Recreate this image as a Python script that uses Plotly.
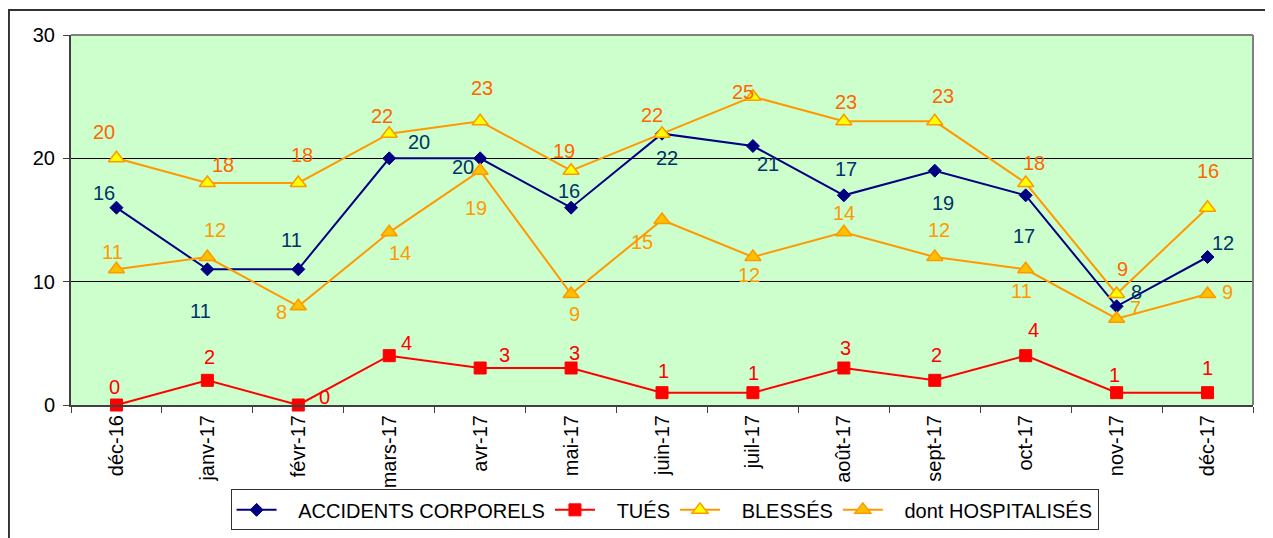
import plotly.graph_objects as go

months = ["déc-16", "janv-17", "févr-17", "mars-17", "avr-17", "mai-17", "juin-17",
          "juil-17", "août-17", "sept-17", "oct-17", "nov-17", "déc-17"]
accidents = [16, 11, 11, 20, 20, 16, 22, 21, 17, 19, 17, 8, 12]
tues = [0, 2, 0, 4, 3, 3, 1, 1, 3, 2, 4, 1, 1]
blesses = [20, 18, 18, 22, 23, 19, 22, 25, 23, 23, 18, 9, 16]
hospitalises = [11, 12, 8, 14, 19, 9, 15, 12, 14, 12, 11, 7, 9]

# label offsets in pixels (dx, dy with dy downward) - styling only
off_acc = [(-12, -15), (-7, 42), (-7, -29), (30, -16), (-17, 9), (-2, -17), (5, 24),
           (15, 18), (2, -26), (8, 32), (-2, 41), (20, -14), (15, -14)]
off_tues = [(-2, -18), (2, -23), (26, -8), (17, -13), (24, -13), (3, -15), (1, -22),
            (1, -20), (2, -20), (2, -25), (8, -26), (-2, -18), (0, -25)]
off_bl = [(-12, -26), (16, -18), (4, -28), (-7, -18), (2, -33), (-7, -20), (-10, -19),
          (-10, -5), (2, -19), (8, -25), (8, -20), (6, -25), (0, -37)]
off_ho = [(-4, -17), (8, -27), (-17, 6), (11, 21), (-4, 37), (3, 20), (-20, 22),
          (-4, 18), (0, -19), (4, -27), (-4, 22), (19, -11), (20, -2)]

FONT = "Liberation Sans, Arial, sans-serif"
FS = 20
PAD = "\u00a0\u00a0\u00a0"

fig = go.Figure()
series = [
    ("ACCIDENTS CORPORELS", accidents, "#000080",
     dict(symbol="diamond", size=10, color="#000080", line=dict(color="#000080", width=1)),
     "#003366", off_acc),
    ("TUÉS", tues, "#FF0000",
     dict(symbol="square", size=12, color="#FF0000", line=dict(color="#FF0000", width=1)),
     "#FF0000", off_tues),
    ("BLESSÉS", blesses, "#FF9900",
     dict(symbol="triangle-up", size=14, color="#FFFF00", line=dict(color="#FF9900", width=1.5)),
     "#FF6600", off_bl),
    ("dont HOSPITALISÉS", hospitalises, "#FF9900",
     dict(symbol="triangle-up", size=14, color="#FFC000", line=dict(color="#FF9900", width=1.5)),
     "#FF9900", off_ho),
]

for name, vals, lc, mk, tc, offs in series:
    fig.add_trace(go.Scatter(x=months, y=vals, name=PAD + name, mode="lines+markers",
                             line=dict(color=lc, width=2), marker=mk, cliponaxis=False))
for name, vals, lc, mk, tc, offs in series:
    for m, v, (dx, dy) in zip(months, vals, offs):
        fig.add_annotation(x=m, y=v, text=str(v), showarrow=False, xshift=dx, yshift=-dy,
                           font=dict(family=FONT, size=FS, color=tc))

# outer frame
fig.add_shape(type="rect", xref="paper", yref="paper", x0=-0.0525, x1=1.3, y0=-0.6, y1=1.0676,
              line=dict(color="#333333", width=2), layer="below")

fig.update_layout(
    width=1265, height=530,
    margin=dict(l=63, r=20, t=27, b=133, autoexpand=False),
    paper_bgcolor="white", plot_bgcolor="#CCFFCC",
    font=dict(family=FONT, size=FS, color="black"),
    showlegend=True,
    legend=dict(orientation="h", x=0.135, y=-0.228, xanchor="left", yanchor="top",
                bgcolor="white", bordercolor="#333333", borderwidth=1,
                font=dict(family=FONT, size=FS, color="black"),
                itemwidth=40, tracegroupgap=0),
    xaxis=dict(type="category", range=[-0.5, len(months) - 0.5], tickangle=-90,
               tickson="boundaries", ticks="outside",
               ticklen=6, tickcolor="#404040", showline=True, linecolor="#404040", linewidth=2,
               mirror=False, showgrid=False, zeroline=False,
               tickfont=dict(family=FONT, size=FS, color="black")),
    yaxis=dict(range=[0, 30], dtick=10, ticks="outside", ticklen=6, tickcolor="#404040",
               showline=True, linecolor="#404040", linewidth=2, showgrid=True,
               gridcolor="black", gridwidth=1, zeroline=False, ticklabelstandoff=4,
               tickfont=dict(family=FONT, size=FS, color="black")),
)
# top and right border of plot area
fig.add_shape(type="line", xref="paper", yref="paper", x0=0, x1=1, y0=1, y1=1,
              line=dict(color="#808080", width=2))
fig.add_shape(type="line", xref="paper", yref="paper", x0=1, x1=1, y0=0, y1=1,
              line=dict(color="#808080", width=2))

fig.write_html("out.html")
